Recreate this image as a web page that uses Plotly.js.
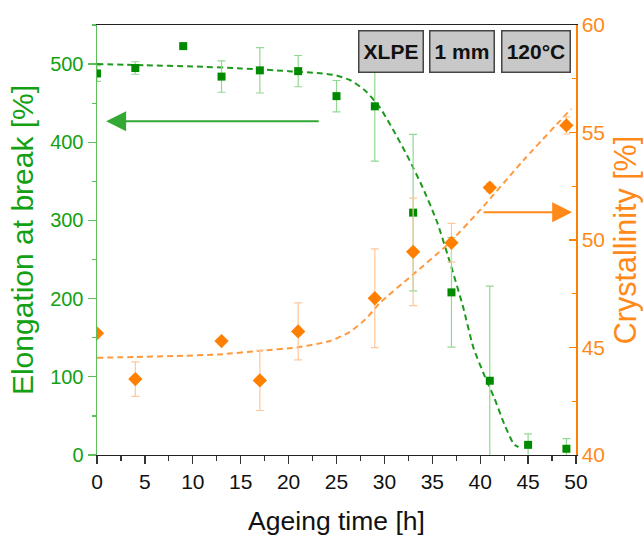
<!DOCTYPE html>
<html>
<head>
<meta charset="utf-8">
<script src="https://cdn.plot.ly/plotly-3.0.1.min.js"></script>
<style>html,body{margin:0;padding:0;background:#fff;}#chart{width:643px;height:539px;}</style>
</head>
<body>
<div id="chart"></div>
<script>
// Ageing time [h]
const elongTime = [0, 4, 9, 13, 17, 21, 25, 29, 33, 37, 41, 45, 49];
const elongation = [488, 495, 523, 484, 492, 491, 459, 446, 310, 208, 95, 13, 8];
const elongErr = [10, 8, 0, 20, 29, 20, 20, 70, 100, 70, 121, 14, 13];

const crystTime = [0, 4, 13, 17, 21, 29, 33, 37, 41, 49];
const crystallinity = [45.66, 43.53, 45.30, 43.47, 45.75, 47.29, 49.45, 49.87, 52.44, 55.33];
const crystErr = [0, 0.8, 0, 1.4, 1.33, 2.3, 2.5, 0.9, 0.2, 0.4];

// fitted curves
const elongFitX = [0, 5, 10, 15, 20, 23, 25, 26.5, 28, 29.5, 31, 32.5, 34, 35.5, 37, 38.2, 39.3, 40.5, 41.5, 42.5, 43.5, 44];
const elongFitY = [500, 498.5, 497, 494.5, 491, 488.5, 485.5, 479, 466, 445, 414, 380, 342, 298, 240, 190, 137, 100, 72, 40, 14, 10];
const crystFitX = [0, 4, 8, 12.8, 17, 20.8, 24.3, 26.4, 28, 29.5, 33, 36.5, 40, 44.5, 49.5];
const crystFitY = [44.52, 44.56, 44.6, 44.68, 44.85, 45.0, 45.3, 45.73, 46.3, 47.06, 48.4, 49.75, 51.4, 53.7, 56.1];

const tags = ["XLPE", "1 mm", "120°C"];

const GREEN = "#008a00";
const GREEN_TXT = "#13a013";
const GREEN_LINE = "#5cbf5c";
const GREEN_ERR = "#92d892";
const ORANGE = "#ff8000";
const ORANGE_TXT = "#ff8a1a";
const ORANGE_ERR = "#ffc79a";
const FONT = "Liberation Sans, Arial, Helvetica, sans-serif";

const traces = [
  {
    x: elongFitX, y: elongFitY, type: "scatter", mode: "lines",
    line: {color: "#1c9a1c", width: 2, dash: "6px,4px", shape: "spline", smoothing: 0.6},
    yaxis: "y", hoverinfo: "skip", showlegend: false
  },
  {
    x: crystFitX, y: crystFitY, type: "scatter", mode: "lines",
    line: {color: "#ff9a3c", width: 2, dash: "6px,4px", shape: "spline", smoothing: 0.6},
    yaxis: "y2", hoverinfo: "skip", showlegend: false
  },
  {
    x: elongTime, y: elongation, type: "scatter", mode: "markers",
    marker: {symbol: "square", size: 8, color: GREEN},
    error_y: {type: "data", array: elongErr, visible: true, color: GREEN_ERR, thickness: 1.2, width: 4},
    yaxis: "y", showlegend: false
  },
  {
    x: crystTime, y: crystallinity, type: "scatter", mode: "markers",
    marker: {symbol: "diamond", size: 11, color: ORANGE},
    error_y: {type: "data", array: crystErr, visible: true, color: ORANGE_ERR, thickness: 1.2, width: 4},
    yaxis: "y2", showlegend: false
  }
];

const tagX = [0.614, 0.763, 0.917];
const tagW = [61, 61, 65];
const annotations = tags.map((t, i) => ({
  xref: "paper", yref: "paper", x: tagX[i], y: 0.938, xanchor: "center", yanchor: "middle",
  text: "<b>" + t + "</b>", showarrow: false,
  font: {family: FONT, size: 21, color: "#111"},
  bgcolor: "#c8c8c8", bordercolor: "#444", borderwidth: 1.5, borderpad: 1,
  width: tagW[i], height: 38
}));
annotations.push({
  xref: "x", yref: "y", axref: "x", ayref: "y",
  x: 0.95, y: 427, ax: 23.3, ay: 427, text: "", showarrow: true,
  arrowhead: 2, arrowsize: 2, arrowwidth: 2, arrowcolor: "#33a833"
});
annotations.push({
  xref: "x", yref: "y2", axref: "x", ayref: "y2",
  x: 49.6, y: 51.29, ax: 40.2, ay: 51.29, text: "", showarrow: true,
  arrowhead: 2, arrowsize: 2, arrowwidth: 2, arrowcolor: "#ff8a1a"
});

const layout = {
  width: 643, height: 539,
  margin: {l: 97, r: 67, t: 25, b: 84},
  paper_bgcolor: "#fff", plot_bgcolor: "#fff",
  font: {family: FONT, size: 20},
  showlegend: false,
  xaxis: {
    range: [0, 50], dtick: 5, tick0: 0,
    showgrid: false, zeroline: false,
    showline: true, linecolor: "#222", linewidth: 1.2, mirror: true,
    ticks: "outside", ticklen: 8, tickwidth: 1.2, tickcolor: "#333",
    minor: {dtick: 2.5, ticks: "outside", ticklen: 5, tickcolor: "#333", tickwidth: 1.2},
    tickfont: {family: FONT, size: 21, color: "#111"},
    title: {text: "Ageing time [h]", font: {family: FONT, size: 26.5, color: "#111"}, standoff: 19}
  },
  yaxis: {
    range: [0, 550], dtick: 100, tick0: 0,
    showgrid: false, zeroline: false,
    showline: true, linecolor: GREEN_LINE, linewidth: 1.5,
    ticks: "outside", ticklen: 8, tickwidth: 1.2, tickcolor: GREEN_LINE,
    minor: {dtick: 50, ticks: "outside", ticklen: 4, tickcolor: GREEN_LINE, tickwidth: 1.2},
    tickfont: {family: FONT, size: 20, color: GREEN_TXT},
    title: {text: "Elongation at break [%]", font: {family: FONT, size: 30, color: GREEN_TXT}, standoff: 7}
  },
  yaxis2: {
    overlaying: "y", side: "right", anchor: "x",
    range: [40, 60], dtick: 5, tick0: 40,
    showgrid: false, zeroline: false,
    showline: true, linecolor: ORANGE, linewidth: 1.5,
    ticks: "inside", ticklen: 7, tickwidth: 1.2, tickcolor: ORANGE,
    minor: {dtick: 2.5, ticks: "inside", ticklen: 4, tickcolor: ORANGE, tickwidth: 1.2},
    tickfont: {family: FONT, size: 21, color: ORANGE_TXT},
    title: {text: "Crystallinity [%]", font: {family: FONT, size: 30.5, color: ORANGE_TXT}, standoff: 13}
  },
  annotations: annotations
};

Plotly.newPlot("chart", traces, layout, {displayModeBar: false, staticPlot: true});
</script>
</body>
</html>
